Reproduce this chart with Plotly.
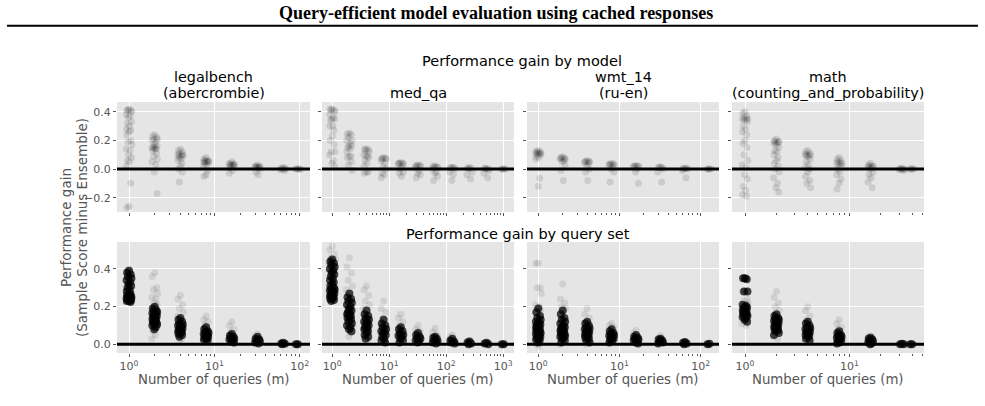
import math
import plotly.graph_objects as go

# ---------------- data ----------------
LEGAL_M = [1, 2, 4, 8, 16, 32, 64, 95]
LEGAL_TOP = [
    [0.42, 0.41, 0.41, 0.41, 0.40, 0.38, 0.37, 0.36, 0.33, 0.32, 0.30, 0.28, 0.27, 0.26, 0.24, 0.20, 0.19, 0.17, 0.14, 0.13, 0.10, 0.08, 0.06, 0.05, 0.02, -0.10, -0.26, -0.27],
    [0.24, 0.23, 0.22, 0.21, 0.21, 0.20, 0.19, 0.17, 0.16, 0.15, 0.15, 0.15, 0.14, 0.14, 0.13, 0.11, 0.09, 0.07, 0.05, 0.03, -0.02, -0.17],
    [0.14, 0.13, 0.12, 0.11, 0.10, 0.10, 0.10, 0.09, 0.09, 0.08, 0.07, 0.06, 0.04, 0.02, 0.0, -0.02, -0.09],
    [0.08, 0.07, 0.06, 0.06, 0.055, 0.05, 0.05, 0.05, 0.045, 0.04, 0.03, 0.02, -0.01, -0.04, -0.05],
    [0.05, 0.04, 0.035, 0.03, 0.03, 0.03, 0.03, 0.025, 0.02, 0.01, -0.01, -0.03],
    [0.03, 0.02, 0.02, 0.015, 0.015, 0.015, 0.01, 0.01, 0.0, -0.02, -0.04],
    [0.01, 0.005, 0.005, 0.0, 0.0, -0.005, -0.01],
    [0.0, 0.0, 0.0, 0.002, -0.002],
]
LEGAL_BOT_CORE = [
    [0.39, 0.38, 0.37, 0.36, 0.35, 0.34, 0.33, 0.32, 0.31, 0.30, 0.29, 0.28, 0.27, 0.26, 0.26, 0.255, 0.25, 0.25, 0.245, 0.24, 0.24, 0.235, 0.235, 0.23, 0.23, 0.225],
    [0.20, 0.19, 0.18, 0.175, 0.17, 0.165, 0.16, 0.155, 0.15, 0.145, 0.14, 0.135, 0.13, 0.125, 0.12, 0.115, 0.11, 0.105, 0.10, 0.09, 0.08],
    [0.14, 0.13, 0.12, 0.11, 0.105, 0.10, 0.095, 0.09, 0.085, 0.08, 0.075, 0.07, 0.065, 0.06, 0.055, 0.05, 0.04],
    [0.09, 0.08, 0.07, 0.065, 0.06, 0.055, 0.05, 0.045, 0.04, 0.035, 0.03, 0.025, 0.02],
    [0.055, 0.045, 0.04, 0.035, 0.03, 0.025, 0.02, 0.015, 0.01],
    [0.04, 0.03, 0.025, 0.02, 0.015, 0.01, 0.005],
    [0.008, 0.005, 0.003, 0.0],
    [0.0, 0.0],
]
LEGAL_BOT_SPREAD = [
    [0.40, 0.39, 0.37, 0.35, 0.33, 0.30, 0.28, 0.26, 0.24, 0.23],
    [0.38, 0.36, 0.30, 0.29, 0.27, 0.25, 0.24, 0.22, 0.21, 0.07, 0.05, 0.03],
    [0.26, 0.24, 0.21, 0.19, 0.17, 0.15, 0.03, 0.02],
    [0.15, 0.13, 0.12, 0.10, 0.01],
    [0.12, 0.10, 0.08, 0.065, 0.005],
    [0.055, 0.045],
    [0.01],
    [],
]

MED_M = [1, 2, 4, 8, 16, 32, 64, 128, 256, 512, 1024]
MED_TOP = [
    [0.42, 0.42, 0.41, 0.41, 0.40, 0.38, 0.36, 0.35, 0.35, 0.34, 0.30, 0.30, 0.27, 0.23, 0.20, 0.17, 0.12, 0.12, 0.10, 0.06, 0.04, 0.02],
    [0.25, 0.245, 0.24, 0.22, 0.20, 0.20, 0.18, 0.16, 0.16, 0.15, 0.14, 0.12, 0.09, 0.09, 0.08, 0.05, 0.03, -0.01],
    [0.14, 0.14, 0.135, 0.13, 0.12, 0.10, 0.09, 0.09, 0.08, 0.06, 0.04, 0.02, -0.02, -0.02, -0.03],
    [0.08, 0.075, 0.075, 0.07, 0.07, 0.06, 0.04, 0.02, 0.0, -0.03, -0.04, -0.06],
    [0.045, 0.04, 0.04, 0.04, 0.035, 0.035, 0.02, 0.0, -0.02, -0.03, -0.05],
    [0.03, 0.025, 0.025, 0.02, 0.02, 0.01, -0.01, -0.03, -0.04, -0.06],
    [0.02, 0.02, 0.015, 0.015, 0.01, 0.0, -0.02, -0.03, -0.05, -0.08],
    [0.012, 0.01, 0.01, 0.005, 0.0, -0.02, -0.04, -0.08],
    [0.01, 0.008, 0.005, 0.0, -0.02, -0.04, -0.07],
    [0.005, 0.005, 0.0, 0.0, -0.01, -0.03, -0.06],
    [0.0, 0.0, 0.0, 0.0],
]
MED_BOT_CORE = [
    [0.45, 0.44, 0.43, 0.42, 0.41, 0.40, 0.39, 0.38, 0.37, 0.36, 0.35, 0.34, 0.33, 0.32, 0.31, 0.30, 0.295, 0.29, 0.285, 0.28, 0.275, 0.27, 0.265, 0.26, 0.255, 0.25, 0.245, 0.24, 0.235, 0.23],
    [0.27, 0.25, 0.24, 0.23, 0.22, 0.21, 0.20, 0.19, 0.18, 0.17, 0.165, 0.16, 0.15, 0.145, 0.14, 0.13, 0.12, 0.11, 0.10, 0.09, 0.08, 0.07],
    [0.18, 0.16, 0.15, 0.14, 0.13, 0.12, 0.115, 0.11, 0.10, 0.09, 0.085, 0.08, 0.07, 0.06, 0.05, 0.04, 0.03],
    [0.13, 0.11, 0.10, 0.09, 0.08, 0.07, 0.065, 0.06, 0.05, 0.04, 0.03, 0.02, 0.01],
    [0.09, 0.08, 0.07, 0.06, 0.05, 0.045, 0.04, 0.03, 0.02, 0.01],
    [0.06, 0.05, 0.04, 0.035, 0.03, 0.02, 0.015, 0.01],
    [0.04, 0.035, 0.03, 0.02, 0.015, 0.01, 0.005],
    [0.03, 0.02, 0.015, 0.01, 0.005],
    [0.015, 0.01, 0.005, 0.0],
    [0.008, 0.004, 0.0],
    [0.0, 0.0],
]
MED_BOT_SPREAD = [
    [0.52, 0.50, 0.48, 0.46, 0.45, 0.43, 0.40, 0.37],
    [0.46, 0.41, 0.38, 0.34, 0.31, 0.29, 0.06, 0.04],
    [0.31, 0.29, 0.26, 0.23, 0.21, 0.19, 0.02],
    [0.23, 0.19, 0.17, 0.14],
    [0.16, 0.14, 0.12, 0.10],
    [0.10, 0.08, 0.07],
    [0.085, 0.065, 0.05],
    [0.05, 0.04],
    [0.02],
    [],
    [],
]

WMT_M = [1, 2, 4, 8, 16, 32, 64, 128]
WMT_TOP = [
    [0.13, 0.125, 0.12, 0.115, 0.11, 0.11, 0.11, 0.105, 0.10, 0.09, 0.08, 0.07, -0.065, -0.12],
    [0.085, 0.08, 0.075, 0.075, 0.07, 0.07, 0.06, 0.05, 0.03, -0.01, -0.08],
    [0.06, 0.055, 0.05, 0.05, 0.05, 0.045, 0.04, 0.02, 0.0, -0.02, -0.08],
    [0.04, 0.035, 0.035, 0.03, 0.03, 0.03, 0.02, 0.0, -0.02, -0.09],
    [0.025, 0.022, 0.02, 0.02, 0.02, 0.015, 0.0, -0.02, -0.10],
    [0.015, 0.012, 0.01, 0.01, 0.0, -0.02, -0.09],
    [0.006, 0.005, 0.005, 0.0, 0.0, -0.01, -0.06],
    [0.0, 0.0, 0.0, 0.0],
]
WMT_BOT_CORE = [
    [0.19, 0.17, 0.15, 0.14, 0.13, 0.12, 0.115, 0.11, 0.105, 0.10, 0.095, 0.09, 0.085, 0.08, 0.075, 0.07, 0.065, 0.06, 0.055, 0.05, 0.045, 0.04, 0.035, 0.03, 0.025, 0.02, 0.01],
    [0.18, 0.16, 0.14, 0.13, 0.12, 0.11, 0.10, 0.095, 0.09, 0.085, 0.08, 0.075, 0.07, 0.065, 0.06, 0.055, 0.05, 0.045, 0.04, 0.035, 0.03, 0.02, 0.01],
    [0.12, 0.11, 0.10, 0.09, 0.085, 0.08, 0.075, 0.07, 0.065, 0.06, 0.055, 0.05, 0.045, 0.04, 0.035, 0.03, 0.02, 0.01],
    [0.08, 0.07, 0.06, 0.055, 0.05, 0.045, 0.04, 0.035, 0.03, 0.025, 0.02, 0.01],
    [0.05, 0.04, 0.035, 0.03, 0.025, 0.02, 0.015, 0.01, 0.005],
    [0.03, 0.025, 0.02, 0.015, 0.01, 0.005],
    [0.012, 0.008, 0.005, 0.0],
    [0.003, 0.0],
]
WMT_BOT_SPREAD = [
    [0.43, 0.43, 0.30, 0.30, 0.27, 0.21, 0.20, 0.19, 0.18, 0.0, -0.01],
    [0.32, 0.24, 0.22, 0.20, 0.19, 0.0],
    [0.19, 0.16, 0.14, 0.0],
    [0.11, 0.10, 0.09],
    [0.075, 0.06],
    [0.045, 0.035],
    [0.015],
    [],
]

MATH_M = [1, 2, 4, 8, 16, 32, 40]
MATH_TOP = [
    [0.40, 0.39, 0.37, 0.36, 0.35, 0.35, 0.35, 0.34, 0.33, 0.30, 0.28, 0.26, 0.24, 0.20, 0.18, 0.15, 0.10, 0.06, 0.03, 0.01, -0.04, -0.07, -0.12, -0.15, -0.18, -0.19],
    [0.21, 0.20, 0.19, 0.19, 0.19, 0.18, 0.18, 0.17, 0.15, 0.13, 0.12, 0.10, 0.08, 0.06, 0.04, 0.02, 0.0, -0.02, -0.06, -0.10, -0.13, -0.16],
    [0.13, 0.12, 0.11, 0.10, 0.10, 0.10, 0.09, 0.09, 0.07, 0.05, 0.03, 0.01, 0.0, -0.02, -0.05, -0.08, -0.10, -0.13],
    [0.08, 0.07, 0.06, 0.05, 0.04, 0.04, 0.04, 0.03, 0.02, 0.0, -0.02, -0.04, -0.07, -0.10, -0.14],
    [0.04, 0.03, 0.02, 0.02, 0.02, 0.015, 0.01, 0.0, -0.02, -0.04, -0.06, -0.09, -0.13],
    [0.005, 0.003, 0.0, 0.0, -0.003, -0.005, -0.01],
    [0.003, 0.0, 0.0, -0.003],
]
MATH_BOT_CORE = [
    [0.35, 0.35, 0.345, 0.28, 0.28, 0.21, 0.205, 0.20, 0.195, 0.19, 0.185, 0.18, 0.175, 0.17, 0.165, 0.16, 0.155, 0.15, 0.145, 0.14, 0.13, 0.12],
    [0.16, 0.15, 0.14, 0.135, 0.13, 0.125, 0.12, 0.115, 0.11, 0.105, 0.10, 0.095, 0.09, 0.085, 0.08, 0.075, 0.07, 0.06, 0.05],
    [0.12, 0.11, 0.10, 0.09, 0.085, 0.08, 0.075, 0.07, 0.065, 0.06, 0.055, 0.05, 0.045, 0.04, 0.03, 0.02],
    [0.07, 0.06, 0.05, 0.045, 0.04, 0.035, 0.03, 0.025, 0.02, 0.015, 0.01, 0.005],
    [0.035, 0.03, 0.025, 0.02, 0.015, 0.01, 0.005, 0.0],
    [0.003, 0.0, 0.0],
    [0.0, 0.0],
]
MATH_BOT_SPREAD = [
    [0.35, 0.28, 0.24, 0.23, 0.22, 0.11, 0.10],
    [0.28, 0.25, 0.22, 0.20, 0.18, 0.04, 0.03],
    [0.20, 0.18, 0.15, 0.13, 0.02],
    [0.13, 0.11, 0.09, 0.08],
    [0.045, 0.04],
    [],
    [],
]

PANEL_TITLES = [["legalbench", "(abercrombie)"], ["med_qa"], ["wmt_14", "(ru-en)"],
                ["math", "(counting_and_probability)"]]
X_TICKVALS = [1, 10, 100, 1000]
X_TICKTEXT = ["10<sup>0</sup>", "10<sup>1</sup>", "10<sup>2</sup>", "10<sup>3</sup>"]
MINOR_TICKVALS = [2, 3, 4, 5, 6, 7, 8, 9, 20, 30, 40, 50, 60, 70, 80, 90,
                  200, 300, 400, 500, 600, 700, 800, 900, 2000]
TOP_YTICKS = [-0.2, 0.0, 0.2, 0.4]
TOP_YTEXT = ["\u22120.2", "0.0", "0.2", "0.4"]
BOT_YTICKS = [0.0, 0.2, 0.4]
BOT_YTEXT = ["0.0", "0.2", "0.4"]

# ---------------- layout geometry / style ----------------
W, H = 985, 406
PANEL_X = [(117, 310), (322, 514), (527, 719), (732, 924)]
ROW_Y = [(102, 212), (242, 353)]
XR = [(-0.141, 2.12), (-0.18, 3.19), (-0.139, 2.225), (-0.125, 1.716)]
YR = [(-0.30, 0.468), (-0.046, 0.543)]
JITTER_PX = [0.0, -2.4, 2.1, -1.2, 3.0, -3.0, 1.2, -0.6, 2.6, -1.8, 0.6, -2.8, 1.8]
FONT = "DejaVu Sans"
GRAY = "#555555"

panels = [
    (LEGAL_M, LEGAL_TOP, LEGAL_BOT_CORE, LEGAL_BOT_SPREAD),
    (MED_M, MED_TOP, MED_BOT_CORE, MED_BOT_SPREAD),
    (WMT_M, WMT_TOP, WMT_BOT_CORE, WMT_BOT_SPREAD),
    (MATH_M, MATH_TOP, MATH_BOT_CORE, MATH_BOT_SPREAD),
]


def sfx(idx):
    return "" if idx == 1 else str(idx)


def points(ms, groups, ppd, scale):
    xs, ys = [], []
    for m, vals in zip(ms, groups):
        for i, v in enumerate(vals):
            xs.append(m * 10 ** (JITTER_PX[i % len(JITTER_PX)] * scale / ppd))
            ys.append(v)
    return xs, ys


fig = go.Figure()
shapes = []
annotations = []
for c, (ms, top, core, spread) in enumerate(panels):
    ppd = (PANEL_X[c][1] - PANEL_X[c][0]) / (XR[c][1] - XR[c][0])
    layers = [
        (0, top, 0.11, 0.9, 7),
        (1, spread, 0.09, 1.0, 7),
        (1, core, 0.72, 0.8, 8),
    ]
    for r, groups, op, sc, sz in layers:
        idx = r * 4 + c + 1
        xs, ys = points(ms, groups, ppd, sc)
        fig.add_trace(go.Scatter(
            x=xs, y=ys, mode="markers", xaxis="x" + sfx(idx), yaxis="y" + sfx(idx),
            marker=dict(color="black", opacity=op, size=sz, line=dict(width=0)),
            showlegend=False, hoverinfo="skip"))

axes = {}
for r in range(2):
    for c in range(4):
        idx = r * 4 + c + 1
        s = sfx(idx)
        tv = [v for v in X_TICKVALS if XR[c][0] <= math.log10(v) <= XR[c][1]]
        tt = [X_TICKTEXT[X_TICKVALS.index(v)] for v in tv]
        mv = [v for v in MINOR_TICKVALS if math.log10(v) <= XR[c][1]]
        axes["xaxis" + s] = dict(
            type="log", range=list(XR[c]),
            domain=[PANEL_X[c][0] / W, PANEL_X[c][1] / W], anchor="y" + s,
            tickmode="array", tickvals=tv, ticktext=tt, showticklabels=(r == 1),
            ticks="outside", ticklen=3, tickcolor=GRAY, tickwidth=1,
            showgrid=True, gridcolor="white", gridwidth=1,
            minor=dict(tickmode="array", tickvals=mv, ticks="outside", ticklen=2,
                       tickcolor=GRAY, tickwidth=1, showgrid=False),
            zeroline=False, showline=False,
            tickfont=dict(family=FONT, size=11, color=GRAY),
        )
        yt = TOP_YTICKS if r == 0 else BOT_YTICKS
        ytt = TOP_YTEXT if r == 0 else BOT_YTEXT
        axes["yaxis" + s] = dict(
            range=list(YR[r]),
            domain=[1 - ROW_Y[r][1] / H, 1 - ROW_Y[r][0] / H], anchor="x" + s,
            tickmode="array", tickvals=yt, ticktext=ytt, showticklabels=(c == 0),
            ticks="outside", ticklen=3, tickcolor=GRAY, tickwidth=1,
            showgrid=True, gridcolor="white", gridwidth=1,
            zeroline=False, showline=False,
            tickfont=dict(family=FONT, size=11, color=GRAY),
        )
        shapes.append(dict(type="line", xref="x" + s + " domain", x0=0, x1=1,
                           yref="y" + s, y0=0, y1=0,
                           line=dict(color="black", width=3), layer="above"))
        if r == 1:
            annotations.append(dict(
                text="Number of queries (m)", xref="paper", yref="paper",
                x=(PANEL_X[c][0] + PANEL_X[c][1]) / 2 / W, y=1 - 379 / H,
                xanchor="center", yanchor="middle", showarrow=False,
                font=dict(family=FONT, size=13.3, color=GRAY)))

# panel titles
for c, lines in enumerate(PANEL_TITLES):
    cx = (PANEL_X[c][0] + PANEL_X[c][1]) / 2 / W
    ys = [77, 93] if len(lines) == 2 else [93]
    for t, yy in zip(lines, ys):
        annotations.append(dict(text=t, xref="paper", yref="paper", x=cx, y=1 - yy / H,
                                xanchor="center", yanchor="middle", showarrow=False,
                                font=dict(family=FONT, size=14.4, color="black")))

annotations += [
    dict(text="<b>Query-efficient model evaluation using cached responses</b>",
         xref="paper", yref="paper", x=495.5 / W, y=1 - 13 / H, xanchor="center",
         yanchor="middle", showarrow=False,
         font=dict(family="Liberation Serif", size=18, color="black")),
    dict(text="Performance gain by model", xref="paper", yref="paper",
         x=522 / W, y=1 - 61 / H, xanchor="center", yanchor="middle", showarrow=False,
         font=dict(family=FONT, size=14.5, color="black")),
    dict(text="Performance gain by query set", xref="paper", yref="paper",
         x=518 / W, y=1 - 234 / H, xanchor="center", yanchor="middle", showarrow=False,
         font=dict(family=FONT, size=14.5, color="black")),
    dict(text="Performance gain", xref="paper", yref="paper",
         x=66 / W, y=1 - 228 / H, xanchor="center", yanchor="middle", showarrow=False,
         textangle=-90, font=dict(family=FONT, size=13.5, color=GRAY)),
    dict(text="(Sample Score minus Ensemble)", xref="paper", yref="paper",
         x=82 / W, y=1 - 228 / H, xanchor="center", yanchor="middle", showarrow=False,
         textangle=-90, font=dict(family=FONT, size=13.5, color=GRAY)),
]

shapes.append(dict(type="line", xref="paper", yref="paper", x0=7 / W, x1=978 / W,
                   y0=1 - 25.7 / H, y1=1 - 25.7 / H, line=dict(color="black", width=2)))

fig.update_layout(
    width=W, height=H, margin=dict(l=0, r=0, t=0, b=0),
    paper_bgcolor="white", plot_bgcolor="#E5E5E5",
    shapes=shapes, annotations=annotations, showlegend=False,
    **axes,
)
fig.write_html("out.html", config={"displayModeBar": False})
